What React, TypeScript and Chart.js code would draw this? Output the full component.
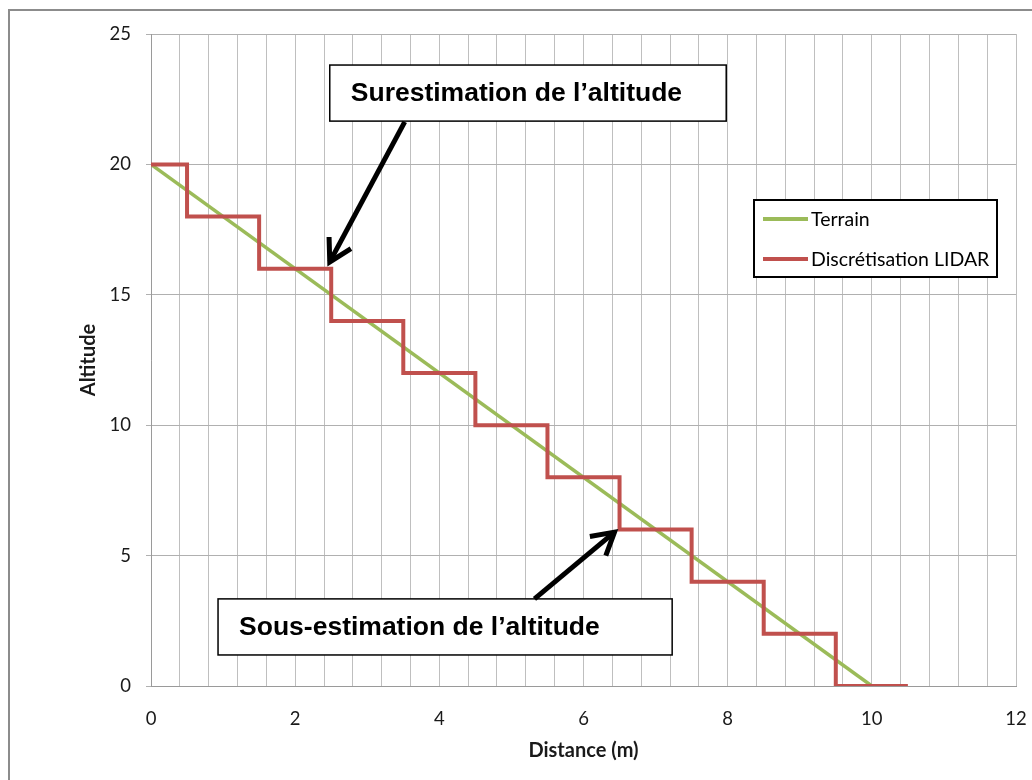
import React, { useEffect, useRef } from "react";
import { Chart, registerables } from "chart.js";

Chart.register(...registerables);

// ---- data ----
const terrainX = [0, 10];
const terrainY = [20, 0];
const lidarX = [0, 0.5, 0.5, 1.5, 1.5, 2.5, 2.5, 3.5, 3.5, 4.5, 4.5, 5.5, 5.5, 6.5, 6.5, 7.5, 7.5, 8.5, 8.5, 9.5, 9.5, 10.5];
const lidarY = [20, 20, 18, 18, 16, 16, 14, 14, 12, 12, 10, 10, 8, 8, 6, 6, 4, 4, 2, 2, 0, 0];
const seriesNames = ["Terrain", "Discrétisation LIDAR"];
const xTickLabels = ["0", "2", "4", "6", "8", "10", "12"];
const yTickLabels = ["0", "5", "10", "15", "20", "25"];
const calloutTexts = ["Surestimation de l\u2019altitude", "Sous-estimation de l\u2019altitude"];
const xTitle = "Distance (m)";
const yTitle = "Altitude";

const GREEN = "#9BBB59";
const RED = "#C0504D";

export default function App() {
  const ref = useRef<HTMLCanvasElement | null>(null);

  useEffect(() => {
    if (!ref.current) return;

    // callout layout in data units (box: x0, yTop, x1, yBottom; arrow: tail -> tip)
    const callouts = [
      { box: [2.48, 23.81, 7.98, 21.66], tail: [3.52, 21.63], tip: [2.48, 16.26] },
      { box: [0.93, 3.34, 7.23, 1.19], tail: [5.32, 3.34], tip: [6.43, 5.9] },
    ];

    const overlay = {
      id: "overlay",
      afterDraw(chart: any) {
        const ctx = chart.ctx as CanvasRenderingContext2D;
        const xs = chart.scales.x;
        const ys = chart.scales.y;
        ctx.save();

        // outer chart frame
        ctx.strokeStyle = "#8c8c8c";
        ctx.lineWidth = 2;
        ctx.beginPath();
        ctx.moveTo(9, 782);
        ctx.lineTo(9, 10);
        ctx.lineTo(1034, 10);
        ctx.stroke();

        // callouts
        callouts.forEach((c, i) => {
          const bx0 = xs.getPixelForValue(c.box[0]);
          const by0 = ys.getPixelForValue(c.box[1]);
          const bx1 = xs.getPixelForValue(c.box[2]);
          const by1 = ys.getPixelForValue(c.box[3]);
          ctx.fillStyle = "#ffffff";
          ctx.fillRect(bx0, by0, bx1 - bx0, by1 - by0);
          ctx.strokeStyle = "#000000";
          ctx.lineWidth = 1.5;
          ctx.strokeRect(bx0, by0, bx1 - bx0, by1 - by0);
          ctx.fillStyle = "#000000";
          ctx.font = "bold 26.5px 'Liberation Sans', Arial, sans-serif";
          ctx.textBaseline = "middle";
          ctx.textAlign = "left";
          ctx.fillText(calloutTexts[i], bx0 + 21, (by0 + by1) / 2 + 1);

          const x1 = xs.getPixelForValue(c.tail[0]);
          const y1 = ys.getPixelForValue(c.tail[1]);
          const x2 = xs.getPixelForValue(c.tip[0]);
          const y2 = ys.getPixelForValue(c.tip[1]);
          ctx.strokeStyle = "#000000";
          ctx.lineWidth = 5;
          ctx.lineJoin = "miter";
          ctx.beginPath();
          ctx.moveTo(x1, y1);
          ctx.lineTo(x2, y2);
          ctx.stroke();
          const ang = Math.atan2(y2 - y1, x2 - x1);
          const L = 25;
          const a = 0.52;
          ctx.beginPath();
          ctx.moveTo(x2 - L * Math.cos(ang - a), y2 - L * Math.sin(ang - a));
          ctx.lineTo(x2, y2);
          ctx.lineTo(x2 - L * Math.cos(ang + a), y2 - L * Math.sin(ang + a));
          ctx.stroke();
        });

        // legend
        const lx0 = 754, ly0 = 200, lx1 = 997, ly1 = 277;
        ctx.fillStyle = "#ffffff";
        ctx.fillRect(lx0, ly0, lx1 - lx0, ly1 - ly0);
        ctx.strokeStyle = "#000000";
        ctx.lineWidth = 2;
        ctx.strokeRect(lx0, ly0, lx1 - lx0, ly1 - ly0);
        const ds = chart.data.datasets;
        ds.forEach((d: any, i: number) => {
          const y = 219 + i * 40;
          ctx.strokeStyle = d.borderColor;
          ctx.lineWidth = 4;
          ctx.lineCap = "butt";
          ctx.beginPath();
          ctx.moveTo(763, y);
          ctx.lineTo(808, y);
          ctx.stroke();
          ctx.fillStyle = "#000000";
          ctx.font = "19.5px Lato, sans-serif";
          ctx.textBaseline = "middle";
          ctx.textAlign = "left";
          ctx.fillText(d.label, 811, y + 1);
        });
        ctx.restore();
      },
    };

    const chart = new Chart(ref.current, {
      type: "line",
      data: {
        datasets: [
          {
            label: seriesNames[0],
            data: terrainX.map((x, i) => ({ x, y: terrainY[i] })),
            borderColor: GREEN,
            backgroundColor: GREEN,
            borderWidth: 3.5,
            pointRadius: 0,
            tension: 0,
            order: 1,
          },
          {
            label: seriesNames[1],
            data: lidarX.map((x, i) => ({ x, y: lidarY[i] })),
            borderColor: RED,
            backgroundColor: RED,
            borderWidth: 4,
            pointRadius: 0,
            tension: 0,
            borderJoinStyle: "miter",
            order: 0,
          },
        ],
      },
      options: {
        responsive: false,
        animation: false,
        devicePixelRatio: 1,
        layout: { padding: { left: 0, top: 34, right: 16, bottom: 0 } },
        plugins: {
          legend: { display: false },
          tooltip: { enabled: false },
        },
        scales: {
          x: {
            type: "linear",
            min: 0,
            max: 12,
            afterFit(scale: any) {
              scale.height = 94;
              scale.paddingLeft = 0;
              scale.paddingRight = 0;
            },
            border: { color: "#9a9a9a", width: 1 },
            grid: { color: "#bfbfbf", lineWidth: 1, drawTicks: false },
            ticks: {
              stepSize: 0.4,
              maxTicksLimit: 100,
              autoSkip: false,
              maxRotation: 0,
              padding: 22,
              color: "#1a1a1a",
              font: { family: "Lato, sans-serif", size: 18.5 },
              callback(v: any) {
                const k = Number(v) / 2;
                if (Math.abs(k - Math.round(k)) < 1e-6) return xTickLabels[Math.round(k)] ?? "";
                return "";
              },
            },
            title: {
              display: true,
              text: xTitle,
              color: "#1a1a1a",
              font: { family: "Lato, sans-serif", size: 20, weight: "bold" },
              padding: { top: 0, bottom: 17 },
            },
          },
          y: {
            type: "linear",
            min: 0,
            max: 25,
            afterFit(scale: any) {
              scale.width = 151;
            },
            border: { color: "#9a9a9a", width: 1 },
            grid: { color: "#b0b0b0", lineWidth: 1, drawTicks: true, tickLength: 5 },
            ticks: {
              stepSize: 5,
              padding: 15,
              color: "#1a1a1a",
              font: { family: "Lato, sans-serif", size: 18.5 },
              callback(v: any) {
                const k = Number(v) / 5;
                if (Math.abs(k - Math.round(k)) < 1e-6) return yTickLabels[Math.round(k)] ?? "";
                return "";
              },
            },
            title: {
              display: true,
              text: yTitle,
              color: "#1a1a1a",
              font: { family: "Lato, sans-serif", size: 20, weight: "bold" },
              padding: { top: 77, bottom: 0 },
            },
          },
        },
      },
      plugins: [overlay],
    } as any);

    return () => chart.destroy();
  }, []);

  return (
    <div style={{ position: "absolute", left: 0, top: 0, width: 1032, height: 780, background: "#ffffff" }}>
      <canvas ref={ref} width={1032} height={780} style={{ width: 1032, height: 780, display: "block" }} />
    </div>
  );
}
